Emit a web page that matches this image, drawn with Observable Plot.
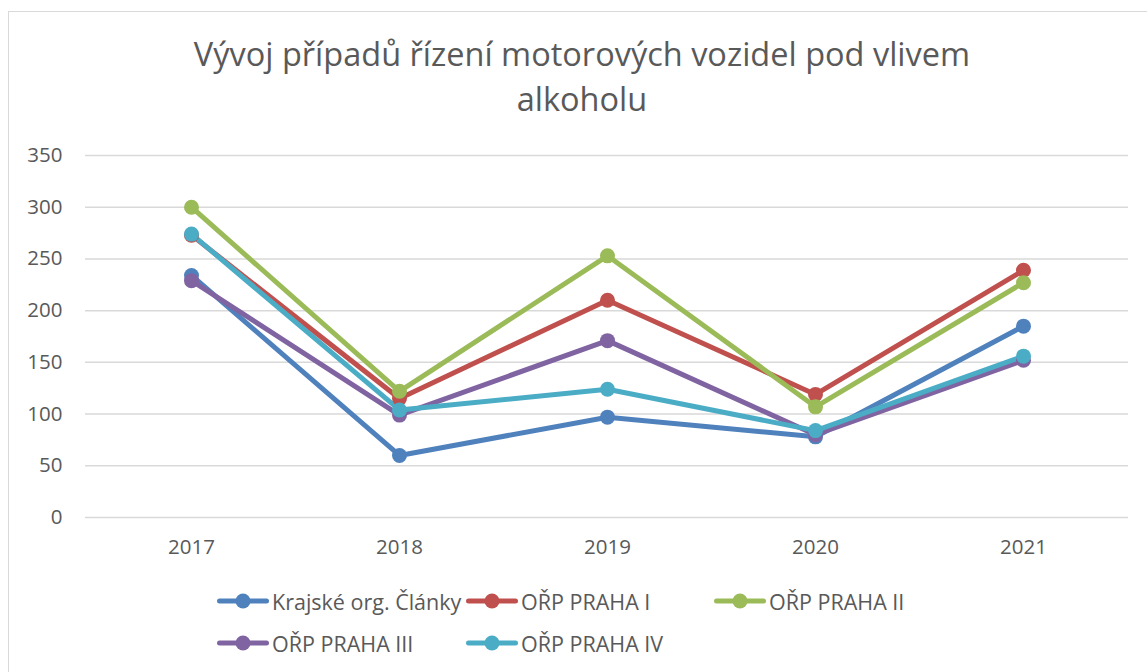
<!DOCTYPE html>
<html>
<head>
<meta charset="utf-8">
<script src="https://cdn.jsdelivr.net/npm/d3@7"></script>
<script src="https://cdn.jsdelivr.net/npm/@observablehq/plot@0.6"></script>
<style>
  html, body { margin: 0; padding: 0; background: #fff; overflow: hidden; }
  #wrap { position: relative; width: 1147px; height: 672px; overflow: hidden; font-family: "Open Sans", sans-serif; color: #595959; }
  #frame { position: absolute; left: 8px; top: 11px; width: 1200px; height: 700px; border: 1.5px solid #d9d9d9; box-sizing: border-box; }
  #title { position: absolute; left: 0; width: 1164px; top: 31px; text-align: center; font-size: 32.5px; line-height: 45px; color: #595959; }
  #chart { position: absolute; left: 0; top: 0; }
  .leg { position: absolute; display: flex; align-items: center; font-size: 21.5px; color: #595959; white-space: nowrap; }
  .leg svg { margin-right: 3px; }
</style>
</head>
<body>
<div id="wrap">
  <div id="frame"></div>
  <div id="chart"></div>
  <div id="title">Vývoj případů řízení motorových vozidel pod vlivem<br>alkoholu</div>
  <div id="legend"></div>
</div>
<script>
const years = ["2017", "2018", "2019", "2020", "2021"];
const seriesNames = ["Krajské org. Články", "OŘP PRAHA I", "OŘP PRAHA II", "OŘP PRAHA III", "OŘP PRAHA IV"];
const krajske = [234, 60, 97, 78, 185];
const prahaI = [273, 115, 210, 119, 239];
const prahaII = [300, 122, 253, 107, 227];
const prahaIII = [229, 99, 171, 80, 152];
const prahaIV = [274, 104, 124, 84, 156];
const colors = ["#4F81BD", "#C0504D", "#9BBB59", "#8064A2", "#4BACC6"];
const yTicks = [0, 50, 100, 150, 200, 250, 300, 350];

const seriesValues = [krajske, prahaI, prahaII, prahaIII, prahaIV];
const data = [];
seriesNames.forEach((name, i) => {
  years.forEach((yr, j) => data.push({ series: name, year: yr, value: seriesValues[i][j] }));
});

const chart = Plot.plot({
  width: 1147,
  height: 570,
  marginTop: 155,
  marginBottom: 53,
  marginLeft: 85,
  marginRight: 19,
  style: { fontFamily: "Open Sans, sans-serif", fontSize: "20.5px", color: "#595959", background: "transparent" },
  x: { type: "point", domain: years, padding: 0.5, label: null, tickSize: 0, tickPadding: 22 },
  y: { domain: [0, 350], ticks: yTicks, label: null, tickSize: 0, tickPadding: 23 },
  color: { domain: seriesNames, range: colors },
  marks: [
    Plot.gridY(yTicks, { stroke: "#d9d9d9", strokeOpacity: 1, strokeWidth: 1.5 }),
    Plot.line(data, { x: "year", y: "value", z: "series", stroke: "series", strokeWidth: 5, strokeLinejoin: "round", strokeLinecap: "round" }),
    Plot.dot(data, { x: "year", y: "value", fill: "series", r: 7.5, stroke: null })
  ]
});
document.getElementById("chart").appendChild(chart);

// Legend (HTML, below the SVG plot area)
const legPos = [[217, 601], [466, 601], [714, 601], [217, 643], [466, 643]];
const legend = document.getElementById("legend");
seriesNames.forEach((name, i) => {
  const d = document.createElement("div");
  d.className = "leg";
  d.style.left = legPos[i][0] + "px";
  d.style.top = (legPos[i][1] - 15) + "px";
  d.style.height = "30px";
  d.innerHTML = `<svg width="52" height="20"><line x1="2.5" y1="10" x2="49.5" y2="10" stroke="${colors[i]}" stroke-width="5" stroke-linecap="round"/><circle cx="26" cy="10" r="7.5" fill="${colors[i]}"/></svg><span>${name}</span>`;
  legend.appendChild(d);
});
</script>
</body>
</html>
